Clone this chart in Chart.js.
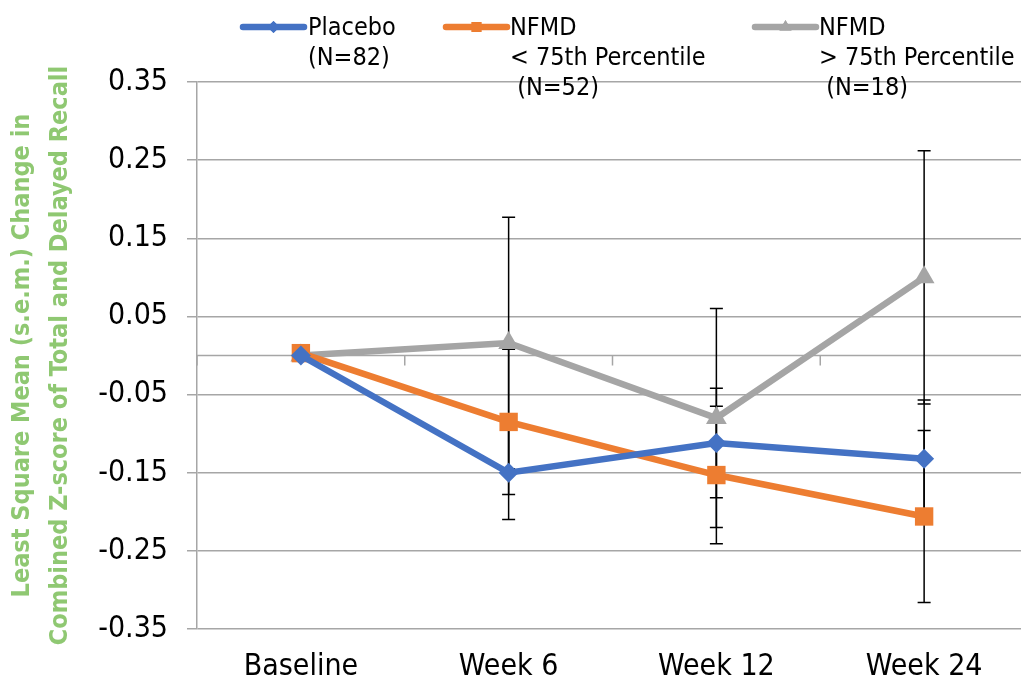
<!DOCTYPE html>
<html>
<head>
<meta charset="utf-8">
<script src="https://cdn.jsdelivr.net/npm/chart.js@4.4.0/dist/chart.umd.min.js"></script>
<style>
  html, body { margin: 0; padding: 0; background: #fff; overflow: hidden; }
  canvas { display: block; }
</style>
</head>
<body>
<canvas id="recallChart" width="1041" height="683"></canvas>
<script>
// Chart data
const visits = ["Baseline", "Week 6", "Week 12", "Week 24"];

const placeboMean = [0, -0.150, -0.112, -0.132];
const placeboSem = [0, 0.060, 0.070, 0.075];

const lowNfmdMean = [0.003, -0.085, -0.153, -0.206];
const lowNfmdSem = [0, 0.093, 0.088, 0.110];

const highNfmdMean = [0, 0.016, -0.080, 0.100];
const highNfmdSem = [0, 0.161, 0.140, 0.162];

const yTicksMin = -0.35;
const yTicksMax = 0.35;
const yTickStep = 0.1;

const seriesLabels = [
  ["Placebo", "(N=82)"],
  ["NFMD", "< 75th Percentile", " (N=52)"],
  ["NFMD", "> 75th Percentile", " (N=18)"]
];
const axisTitle = ["Least Square Mean (s.e.m.) Change in", "Combined Z-score of Total and Delayed Recall"];

const FONT = '"DejaVu Sans Condensed", "DejaVu Sans", sans-serif';
const GRID = "#a6a6a6";

const errors = [placeboSem, lowNfmdSem, highNfmdSem];

// error bars + the x axis line crossing at zero, drawn under the series
const errorBarsPlugin = {
  id: "errorBars",
  beforeDatasetsDraw(chart) {
    const ctx = chart.ctx;
    const x = chart.scales.x;
    const y = chart.scales.y;
    const area = chart.chartArea;

    // horizontal axis at 0 with tick marks between the categories
    const y0 = y.getPixelForValue(0);
    ctx.save();
    ctx.strokeStyle = GRID;
    ctx.lineWidth = 1.5;
    ctx.beginPath();
    ctx.moveTo(area.left, y0);
    ctx.lineTo(area.right, y0);
    const half = (x.getPixelForValue(1) - x.getPixelForValue(0)) / 2;
    for (let i = 0; i <= visits.length; i++) {
      const tx = x.getPixelForValue(0) - half + i * half * 2;
      ctx.moveTo(tx, y0);
      ctx.lineTo(tx, y0 + 10);
    }
    ctx.stroke();

    ctx.strokeStyle = "#000";
    ctx.lineWidth = 1.5;
    chart.data.datasets.forEach((ds, i) => {
      ds.data.forEach((v, j) => {
        const e = errors[i][j];
        if (!e) return;
        const px = x.getPixelForValue(j);
        const top = y.getPixelForValue(v + e);
        const bot = y.getPixelForValue(v - e);
        ctx.beginPath();
        ctx.moveTo(px, top);
        ctx.lineTo(px, bot);
        ctx.moveTo(px - 6.5, top);
        ctx.lineTo(px + 6.5, top);
        ctx.moveTo(px - 6.5, bot);
        ctx.lineTo(px + 6.5, bot);
        ctx.stroke();
      });
    });
    ctx.restore();
  }
};

// legend on top, drawn by hand because of the multi-line labels
const legendPlugin = {
  id: "topLegend",
  afterDraw(chart) {
    const ctx = chart.ctx;
    const lineStarts = [243, 446, 755];
    const textStarts = [308, 510, 819];
    const baselines = [35, 65, 95];
    ctx.save();
    chart.data.datasets.forEach((ds, i) => {
      const x0 = lineStarts[i];
      ctx.strokeStyle = ds.borderColor;
      ctx.lineWidth = 6.5;
      ctx.lineCap = "round";
      ctx.beginPath();
      ctx.moveTo(x0, 27);
      ctx.lineTo(x0 + 61, 27);
      ctx.stroke();
      ctx.fillStyle = ds.borderColor;
      Chart.helpers.drawPoint(ctx, { pointStyle: ds.pointStyle, radius: ds.pointStyle === "rectRot" ? 6 : 7, borderWidth: 0 }, x0 + 30.5, 27);
      ctx.fill();

      ctx.fillStyle = "#000";
      ctx.font = "25px " + FONT;
      ctx.textBaseline = "alphabetic";
      ctx.textAlign = "left";
      seriesLabels[i].forEach((t, k) => {
        ctx.fillText(t, textStarts[i], baselines[k]);
      });
    });
    ctx.restore();
  }
};

function makeSeries(label, data, color, style, radius) {
  return {
    label: label,
    data: data,
    borderColor: color,
    backgroundColor: color,
    borderWidth: 6.5,
    pointStyle: style,
    pointRadius: radius,
    pointHoverRadius: radius,
    pointBorderWidth: 0,
    pointBackgroundColor: color,
    tension: 0
  };
}

new Chart(document.getElementById("recallChart"), {
  type: "line",
  data: {
    labels: visits,
    datasets: [
      makeSeries(seriesLabels[0].join(" "), placeboMean, "#4472c4", "rectRot", 10),
      makeSeries(seriesLabels[1].join(" "), lowNfmdMean, "#ed7d31", "rect", 13),
      makeSeries(seriesLabels[2].join(" "), highNfmdMean, "#a5a5a5", "triangle", 12)
    ]
  },
  options: {
    responsive: false,
    animation: false,
    devicePixelRatio: 1,
    layout: { padding: { top: 82, right: 7, left: 0, bottom: 0 } },
    plugins: {
      legend: { display: false },
      tooltip: { enabled: false }
    },
    scales: {
      x: {
        offset: true,
        grid: { display: false, drawTicks: false },
        border: { display: false },
        ticks: { color: "#000", padding: 20, font: { family: FONT, size: 30 } },
        afterFit(scale) { scale.height = 54; }
      },
      y: {
        min: yTicksMin,
        max: yTicksMax,
        grid: { color: GRID, lineWidth: 1.5, tickLength: 10 },
        border: { display: true, color: GRID, width: 1.5 },
        ticks: {
          stepSize: yTickStep,
          color: "#000",
          padding: 19,
          font: { family: FONT, size: 30 },
          callback: (value) => Number(value).toFixed(2)
        },
        title: {
          display: true,
          text: axisTitle,
          color: "#8fc872",
          padding: { top: 4, bottom: 0 },
          font: { family: FONT, size: 25, weight: "bold", lineHeight: 1.5 }
        },
        afterFit(scale) { scale.width = 197; }
      }
    }
  },
  plugins: [errorBarsPlugin, legendPlugin]
});
</script>
</body>
</html>
